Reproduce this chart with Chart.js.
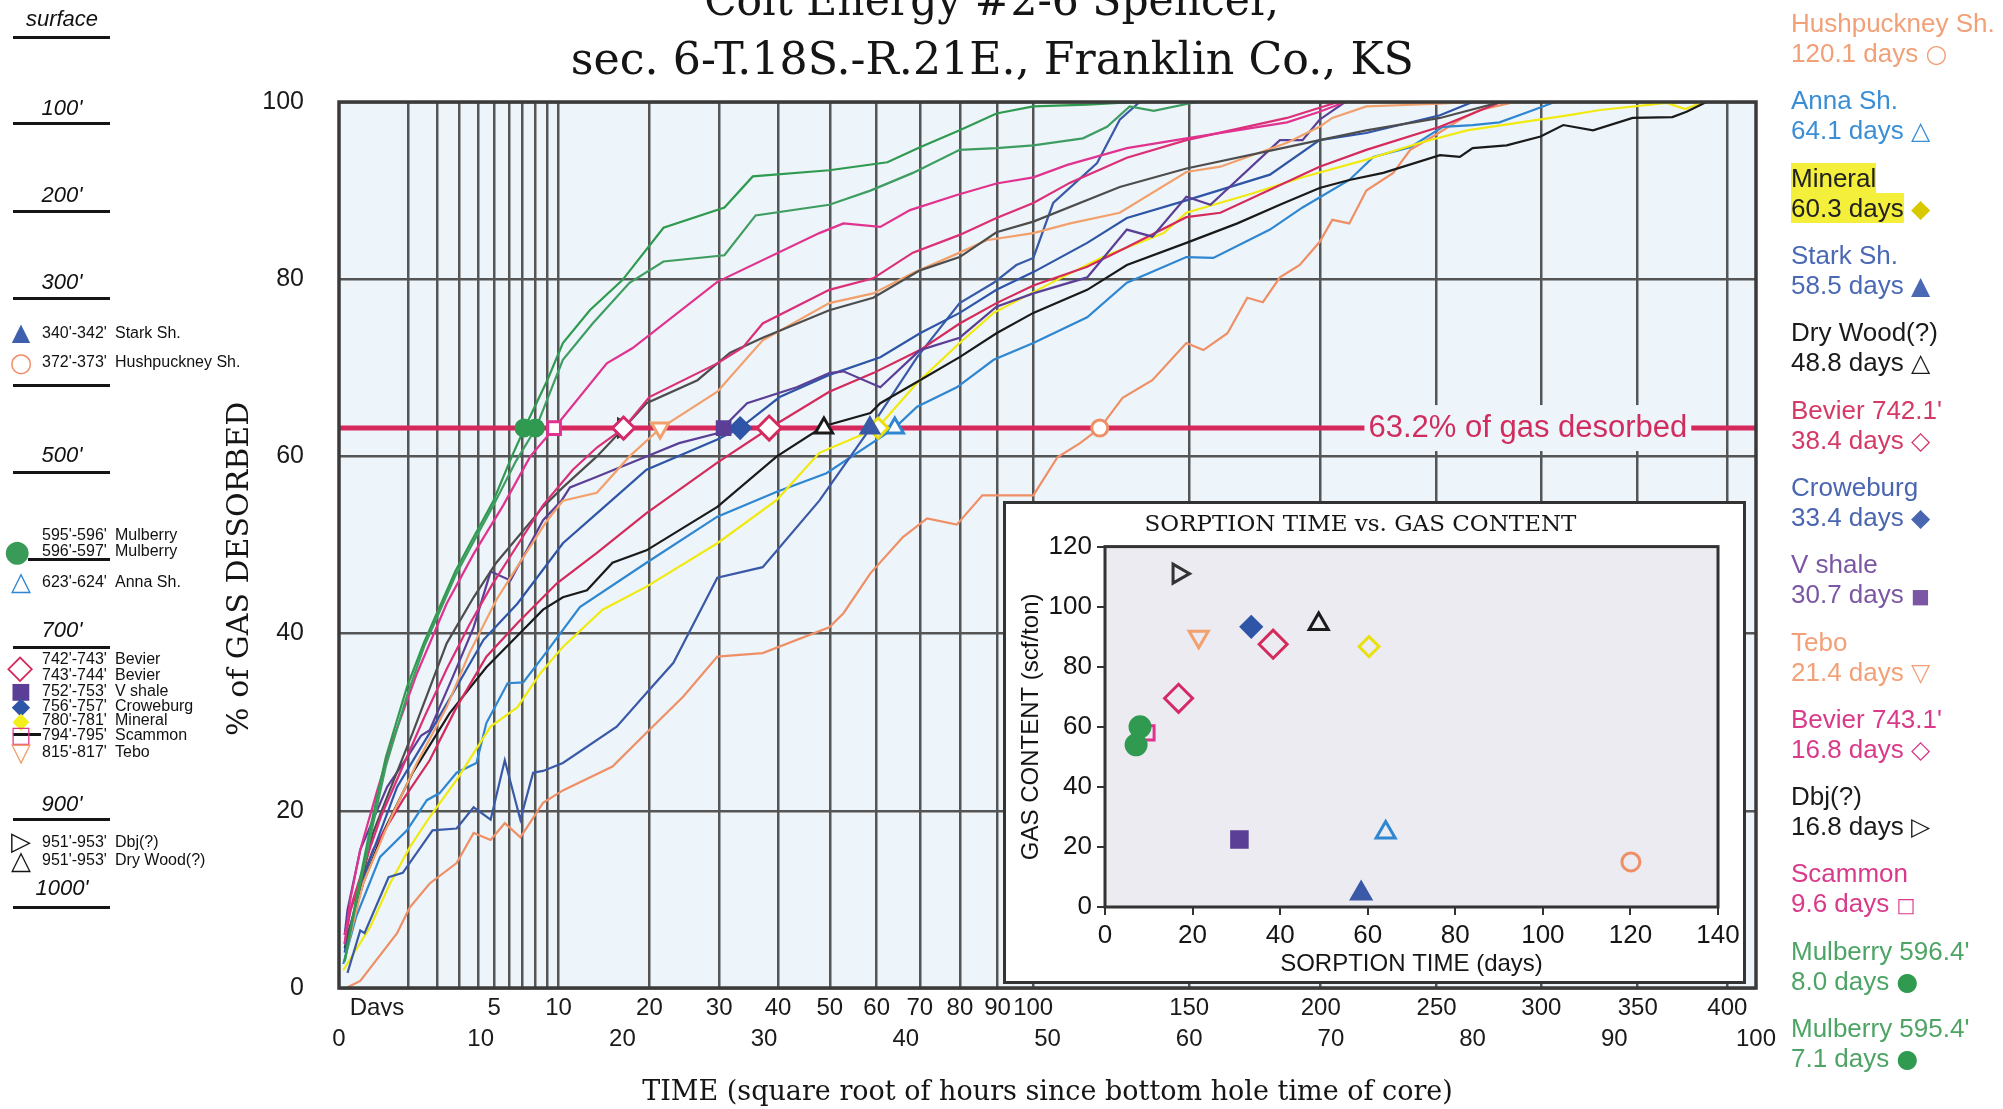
<!DOCTYPE html>
<html>
<head>
<meta charset="utf-8">
<script src="https://cdn.jsdelivr.net/npm/chart.js@4.4.1/dist/chart.umd.min.js"></script>
<style>
  body { margin: 0; background: #fff; }
  #page { position: relative; width: 2003px; height: 1109px; overflow: hidden; font-family: 'Liberation Sans', Arial, sans-serif; color: #111; }
  #main { position: absolute; left: 0; top: 0; }
  #inset { position: absolute; left: 1003px; top: 501px; background: #fff; }
  #insetFrame { position: absolute; left: 1003px; top: 501px; width: 743px; height: 483px; border: 3px solid #333; box-sizing: border-box; pointer-events: none; }
  .ttl { position: absolute; left: 0; width: 1984px; text-align: center; font-family: 'DejaVu Serif', serif; font-size: 45px; line-height: 50px; color: #151515; white-space: nowrap; }
  .ttl span { display: inline-block; transform-origin: 50% 50%; }
  .depth { position: absolute; left: 13px; width: 98px; text-align: center; font: italic 22px 'Liberation Sans', Arial, sans-serif; line-height: 24px; }
  .rule { position: absolute; left: 13px; width: 97px; height: 3px; background: #151515; }
  .row { position: absolute; font-size: 16px; line-height: 18px; white-space: nowrap; }
  .row .d { position: absolute; left: 42px; }
  .row .n { position: absolute; left: 115px; }
  .sym { position: absolute; font-family: 'DejaVu Sans', sans-serif; font-weight: bold; line-height: 24px; width: 28px; text-align: center; }
  .leg { position: absolute; left: 1791px; font-size: 26px; line-height: 30px; white-space: nowrap; }
  .leg b { font-family: 'DejaVu Sans', sans-serif; font-size: 25px; }
</style>
</head>
<body>
<div id="page">
  <canvas id="main" width="2003" height="1109"></canvas>
  <canvas id="inset" width="743" height="483"></canvas>
  <div id="insetFrame"></div>

  <div class="ttl" style="top:-25px"><span class="fit" data-w="575">Colt Energy #2-6 Spencer,</span></div>
  <div class="ttl" style="top:34px"><span class="fit" data-w="843">sec. 6-T.18S.-R.21E., Franklin Co., KS</span></div>

  <!-- depth column -->
  <div class="depth" style="top:7px">surface</div>
  <div class="depth" style="top:96px">100'</div>
  <div class="depth" style="top:183px">200'</div>
  <div class="depth" style="top:270px">300'</div>
  <div class="depth" style="top:443px">500'</div>
  <div class="depth" style="top:618px">700'</div>
  <div class="depth" style="top:792px">900'</div>
  <div class="depth" style="top:876px">1000'</div>
  <div class="rule" style="top:36px"></div>
  <div class="rule" style="top:122px"></div>
  <div class="rule" style="top:210px"></div>
  <div class="rule" style="top:297px"></div>
  <div class="rule" style="top:384px"></div>
  <div class="rule" style="top:471px"></div>
  <div class="rule" style="top:558px; left:28px; width:82px"></div>
  <div class="rule" style="top:646px"></div>
  <div class="rule" style="top:733px; width:28px"></div>
  <div class="rule" style="top:818px"></div>
  <div class="rule" style="top:906px"></div>

  <div class="row" style="top:324px"><span class="d">340'-342'</span><span class="n">Stark Sh.</span></div>
  <div class="row" style="top:353px"><span class="d">372'-373'</span><span class="n">Hushpuckney Sh.</span></div>
  <div class="row" style="top:526px"><span class="d">595'-596'</span><span class="n">Mulberry</span></div>
  <div class="row" style="top:542px"><span class="d">596'-597'</span><span class="n">Mulberry</span></div>
  <div class="row" style="top:573px"><span class="d">623'-624'</span><span class="n">Anna Sh.</span></div>
  <div class="row" style="top:650px"><span class="d">742'-743'</span><span class="n">Bevier</span></div>
  <div class="row" style="top:666px"><span class="d">743'-744'</span><span class="n">Bevier</span></div>
  <div class="row" style="top:682px"><span class="d">752'-753'</span><span class="n">V shale</span></div>
  <div class="row" style="top:697px"><span class="d">756'-757'</span><span class="n">Croweburg</span></div>
  <div class="row" style="top:711px"><span class="d">780'-781'</span><span class="n">Mineral</span></div>
  <div class="row" style="top:726px"><span class="d">794'-795'</span><span class="n">Scammon</span></div>
  <div class="row" style="top:743px"><span class="d">815'-817'</span><span class="n">Tebo</span></div>
  <div class="row" style="top:833px"><span class="d">951'-953'</span><span class="n">Dbj(?)</span></div>
  <div class="row" style="top:851px"><span class="d">951'-953'</span><span class="n">Dry Wood(?)</span></div>

  <div class="sym" style="left:7px; top:320px; font-size:24px; color:#3d5fae">▲</div>
  <div class="sym" style="left:7px; top:350px; font-size:26px; color:#f0906a">○</div>
  <div class="sym" style="left:3px; top:539px; font-size:30px; color:#3a9a58">●</div>
  <div class="sym" style="left:7px; top:569px; font-size:26px; color:#2f86d1">△</div>
  <div class="sym" style="left:6px; top:654px; font-size:34px; color:#d42a5c">◇</div>
  <div class="sym" style="left:7px; top:679px; font-size:22px; color:#5b3f96">■</div>
  <div class="sym" style="left:7px; top:694px; font-size:24px; color:#2e55a6">◆</div>
  <div class="sym" style="left:7px; top:709px; font-size:22px; color:#f3ef1a">◆</div>
  <div class="sym" style="left:7px; top:723px; font-size:22px; color:#e0338f">□</div>
  <div class="sym" style="left:7px; top:740px; font-size:26px; color:#f2a06c">▽</div>
  <div class="sym" style="left:7px; top:829px; font-size:26px; color:#151515">▷</div>
  <div class="sym" style="left:7px; top:848px; font-size:26px; color:#151515">△</div>

  <!-- right legend -->
  <div class="leg" style="top:8px; color:#f2a078">Hushpuckney Sh.<br>120.1 days <b>○</b></div>
  <div class="leg" style="top:85px; color:#3a8ed6">Anna Sh.<br>64.1 days <b>△</b></div>
  <div class="leg" style="top:163px; color:#222"><span style="background:#f3ef3a">Mineral</span><br><span style="background:#f3ef3a">60.3 days</span> <b style="color:#d8c800">◆</b></div>
  <div class="leg" style="top:240px; color:#4a68b4">Stark Sh.<br>58.5 days <b>▲</b></div>
  <div class="leg" style="top:317px; color:#1a1a1a">Dry Wood(?)<br>48.8 days <b>△</b></div>
  <div class="leg" style="top:395px; color:#d43a66">Bevier 742.1'<br>38.4 days <b>◇</b></div>
  <div class="leg" style="top:472px; color:#4a66b0">Croweburg<br>33.4 days <b>◆</b></div>
  <div class="leg" style="top:549px; color:#7a56a4">V shale<br>30.7 days <b style="font-size:20px">■</b></div>
  <div class="leg" style="top:627px; color:#f2a078">Tebo<br>21.4 days <b>▽</b></div>
  <div class="leg" style="top:704px; color:#d93a8a">Bevier 743.1'<br>16.8 days <b>◇</b></div>
  <div class="leg" style="top:781px; color:#1a1a1a">Dbj(?)<br>16.8 days <b>▷</b></div>
  <div class="leg" style="top:858px; color:#d93a8a">Scammon<br>9.6 days <b style="font-size:20px">□</b></div>
  <div class="leg" style="top:936px; color:#4da465">Mulberry 596.4'<br>8.0 days <b style="color:#2f9a50">●</b></div>
  <div class="leg" style="top:1013px; color:#4da465">Mulberry 595.4'<br>7.1 days <b style="color:#2f9a50">●</b></div>
</div>

<script>
// desorption curves, [square root of hours, % of gas desorbed]
const mulberry595 = [[0.4,3],[1.2,10],[2.2,18],[3.3,26],[4.8,34],[6,39],[7.1,43],[8.2,47],[9.2,50],[10.9,55],[12.2,60],[13.1,63.2],[14.7,68.6],[15.8,72.8],[17.7,76.5],[20,79.9],[22.9,85.8],[27.2,88.1],[29.2,91.6],[34.6,92.3],[38.7,93.2],[41,94.9],[43.8,96.8],[46.4,98.7],[49,99.5],[52.8,99.7],[56.3,100]];
const mulberry596 = [[0.4,3],[1.2,9.5],[2.2,17],[3.3,25],[4.8,33],[6,38.5],[7.1,42.5],[8.2,46.5],[9.2,49.5],[10.9,54.5],[12.5,59.5],[13.9,63.2],[15.8,70.9],[17.9,75],[20.5,79.6],[22.9,82],[27.2,82.7],[29.4,87.2],[34.6,88.4],[37.5,90],[40.5,92],[43.8,94.6],[46.4,94.8],[49,95.1],[52.5,95.9],[54.2,97.2],[55.8,99.5],[57.5,99],[60.5,100]];
const scammon = [[0.4,5],[0.8,10],[1.5,15.6],[2.7,22.3],[3.8,28],[5.5,35.5],[7.6,43.4],[9.5,49],[11.6,54.5],[13.5,60],[15.2,63.2],[18.9,70.5],[20.7,72.2],[26.7,79.7],[33.9,85.2],[35.6,86.3],[38.2,85.9],[40.3,87.8],[43.6,89.5],[46.4,90.8],[49,91.5],[51.4,92.9],[55.6,94.8],[59.8,95.9],[66.9,97.7],[69.2,98.9],[71,100]];
const bevier743 = [[0.4,6],[1,10],[1.8,14],[3,19.5],[4.5,25],[6,30.5],[7.6,36],[9.2,41],[10.8,45.5],[12.6,50],[14.4,54.5],[16.5,58.5],[18.2,61],[20.1,63.2],[21.9,66.7],[26.7,70.5],[28.5,72.3],[29.9,75],[34.6,78.8],[37.7,80.1],[40.5,83],[43.8,85],[46.4,86.9],[49,88.6],[51.6,90.9],[55.6,93.7],[59.8,95.7],[66.9,98.2],[70.5,100]];
const dbj = [[0.4,5],[0.8,6.9],[2.4,17.5],[3.5,22],[5.2,28.8],[7.6,38.9],[9.5,44.1],[11.1,48],[14.4,54.3],[15.8,56.5],[18.2,60],[20.1,63.2],[21.7,66],[25.3,68.6],[27.6,71.7],[29.9,73.4],[34.6,76.5],[37.7,77.9],[41,81],[43.8,82.5],[46.4,85.3],[49,86.5],[55.1,90.4],[59.8,92.5],[66.9,94.9],[69.2,95.7],[72.5,96.8],[77.7,98.2],[82,100]];
const tebo = [[0.5,4],[1.7,11.8],[3.6,19],[5.5,25.4],[7.6,31.7],[9.2,37.8],[11.1,43.8],[13,48.6],[14.7,52.8],[15.8,55],[18.2,55.9],[20.5,60],[22.7,63.2],[26.7,67.3],[29.9,73.1],[34.6,77.3],[37.7,78.4],[40.5,80.7],[43.8,83],[45.7,84.4],[49,85.2],[51.6,86.3],[55.1,87.5],[59.8,92.1],[62.2,92.7],[66.9,95.4],[69.2,97.2],[70.1,98.2],[72.5,99.5],[77.7,99.8],[80,100]];
const vShale = [[0.4,6],[0.6,8.8],[1.5,15.6],[3.4,22.7],[4.8,26],[5.8,28.5],[6.4,29.1],[8,35],[9.5,40.7],[10.7,47],[12.1,46],[14.4,52.8],[15.7,55],[16.3,56.5],[18.2,57.7],[21.7,60],[24,61.5],[26.7,62.6],[28.8,66],[32.3,67.8],[34.6,69.4],[35.6,69.6],[38.2,67.8],[41,72],[43.8,73.4],[46.4,76.9],[49,78.4],[52.8,80.2],[55.6,85.6],[57.4,84.8],[59.8,89.3],[61.5,88.4],[66.4,95.7],[68,95.7],[69.2,98],[71,100]];
const croweburg = [[0.4,4],[0.6,6],[2,13.7],[4.1,22.7],[6.4,28.8],[8.3,34],[10.2,39.3],[12.6,43.4],[15.8,50.2],[18.5,54],[21.7,58.5],[26.7,61.9],[28.3,63.2],[31.1,66.7],[34.6,69.2],[38.2,71.2],[41,73.9],[43.8,76.2],[46.4,78.8],[49,80.8],[52.8,84.1],[55.6,86.9],[59.8,88.9],[65.7,91.8],[69.2,95.7],[72.5,96.5],[77.7,98.5],[80,100]];
const bevier742 = [[0.4,5],[0.8,8.8],[2.4,15.6],[4.5,21.2],[6.4,25.7],[8.3,31.7],[10.4,37.4],[12.6,41.2],[15.4,45.7],[18.2,49.1],[21.7,53.6],[26.7,59.3],[30.4,63.2],[34.6,67.3],[37.7,69.4],[41,72],[43.8,75],[46.4,77.3],[49,79.3],[52.8,81.4],[55.6,83.6],[59.8,87],[62.2,87.5],[69.2,92.7],[72.5,94.6],[77.7,97.2],[82,100]];
const dryWood = [[0.4,4.5],[1.7,11.8],[3.1,17.5],[5.2,24.3],[7.8,31],[10.4,36.2],[12.8,40.1],[14.4,42.7],[15.8,44.1],[17.5,44.9],[19.3,48],[21.7,49.4],[26.7,54.3],[30.9,60],[34.2,63.4],[37.5,64.9],[38.2,66],[41,68.6],[43.8,71.2],[46.4,73.9],[49,76.2],[52.8,78.8],[55.6,81.6],[59.8,84.1],[63.4,86.3],[66.4,88.4],[69.2,90.3],[71.3,91.2],[73.7,92],[77.7,94],[79.1,93.8],[80,94.8],[82.4,95.1],[84.8,96.1],[86.4,97.4],[88.5,96.8],[91.3,98.2],[94.1,98.3],[95.1,98.9],[96.5,100]];
const stark = [[0.6,1.7],[1.5,6.5],[1.8,6.2],[3.5,12.5],[4.5,13],[6.6,17.8],[8.3,18],[9.5,20.4],[10.7,19],[11.7,25.7],[12.8,19],[13.7,24.3],[14.4,24.5],[15.8,25.4],[19.6,29.5],[21.7,33.3],[23.6,36.7],[26.7,46.3],[29.9,47.5],[33.9,55],[37.5,63.2],[40.8,71.2],[43.8,77.3],[46.2,79.6],[47.8,81.6],[49,82.4],[50.4,88.6],[53.5,93.1],[55.1,98],[56.5,100]];
const mineral = [[0.3,2],[2.2,6.9],[3.6,11.8],[5,15.9],[6.4,19.3],[8.3,23.5],[9.5,26.5],[10.7,29.5],[12.6,31.7],[14.2,35.5],[15.8,38.5],[18.6,42.7],[21.7,45.3],[26.7,50.2],[30.9,55.1],[33.9,60.4],[38,63.2],[40.8,68.3],[43.8,72.8],[46.2,76.2],[50.4,79.7],[53.9,82.5],[58.2,85.2],[59.8,87.5],[64.5,89.7],[68,91.5],[72.5,93.5],[76.3,95.4],[79.6,96.8],[86.7,98.5],[89,99.1],[93.7,99.9],[95,99.2],[96.3,100]];
const anna = [[0.3,2.7],[1.2,8],[2.9,14.8],[4.8,17.8],[6.2,21.2],[7.1,22],[8.3,24.3],[9.7,25.4],[10.4,29.9],[11.9,34.4],[13,34.5],[14.4,37.4],[17,43],[21.7,48],[26.7,53.2],[30.9,56],[34.4,58.1],[39.2,63.2],[40.8,65.6],[43.6,67.8],[46.2,70.9],[49,72.8],[52.8,75.7],[55.6,79.6],[59.8,82.5],[61.7,82.4],[65.7,85.6],[68,88.1],[71.3,91.2],[73,93.8],[75.6,94.9],[77.9,97.2],[80,97.4],[81.9,97.7],[84.3,99.1],[85.8,100]];
const hushpuckney = [[0.5,0],[1.5,0.8],[4.1,6.2],[5,9.1],[6.4,11.8],[8.3,14.1],[9.5,17.5],[10.7,16.7],[11.7,18.6],[12.8,17],[14.4,20.9],[15.8,22.3],[19.3,25],[21.7,28.8],[24.3,32.9],[26.7,37.4],[29.9,37.8],[34.6,40.7],[35.6,42.3],[37.5,46.8],[39.8,50.9],[41.5,53],[43.6,52.3],[45.4,55.6],[49,55.6],[50.7,59.9],[52.3,61.5],[53.7,63.2],[55.3,66.6],[57.4,68.6],[59.8,72.8],[61,72],[62.7,73.9],[64.1,77.9],[65.2,77.4],[66.4,80.2],[67.8,81.6],[69.2,84.2],[70.1,86.7],[71.3,86.3],[72.5,90],[74.4,92],[75.6,94.6],[77.2,96.1],[79.1,98],[80.5,99.1],[83,100]];

const seriesNames = ['Mulberry 595.4', 'Mulberry 596.4', 'Scammon', 'Bevier 743.1', 'Dbj(?)', 'Tebo', 'V shale', 'Croweburg', 'Bevier 742.1', 'Dry Wood(?)', 'Stark Sh.', 'Mineral', 'Anna Sh.', 'Hushpuckney Sh.'];
const sorptionDays = [7.1, 8.0, 9.6, 16.8, 16.8, 21.4, 30.7, 33.4, 38.4, 48.8, 58.5, 60.3, 64.1, 120.1];
const gasContent = [54, 60, 58, 69.5, 111, 90, 22.5, 93.3, 87.5, 94.2, 4.5, 86.7, 24.8, 15];
const desorbedLevel = 63.2;

// bottom axis: day marks on the square-root-of-hours scale
const dayTicks = [1, 2, 3, 4, 5, 6, 7, 8, 9, 10, 20, 30, 40, 50, 60, 70, 80, 90, 100, 150, 200, 250, 300, 350, 400];
const dayTickLabels = ['', '', '', '', '5', '', '', '', '', '10', '20', '30', '40', '50', '60', '70', '80', '90', '100', '150', '200', '250', '300', '350', '400'];

const curves = [mulberry595, mulberry596, scammon, bevier743, dbj, tebo, vShale, croweburg, bevier742, dryWood, stark, mineral, anna, hushpuckney];

// styling
const lineColors = ['#2f9a50', '#3f9d62', '#e0338f', '#db2f78', '#4d4d4d', '#f2a06c', '#5b3f96', '#2e55a6', '#d42a5c', '#1a1a1a', '#3a5aa8', '#f0ea10', '#2f86d1', '#ef8f66'];
const markColors = ['#2f9a50', '#2f9a50', '#e0338f', '#d42a6a', '#333333', '#f2a06c', '#5b3f96', '#2e55a6', '#d42a5c', '#1a1a1a', '#3a5aa8', '#e8e010', '#2f86d1', '#ef8f66'];
const markStyle = ['circle', 'circle', 'rect', 'rectRot', 'triangle', 'triangle', 'rect', 'rectRot', 'rectRot', 'triangle', 'triangle', 'rectRot', 'triangle', 'circle'];
const markRotation = [0, 0, 0, 0, 90, 180, 0, 0, 0, 0, 0, 0, 0, 0];
const markFilled = [true, true, false, false, false, false, true, true, false, false, true, false, false, false];
const mainRadius = [8, 8, 9, 11, 10, 10, 9, 10, 12, 10, 10, 10, 10, 8];
const insetRadius = [10, 10, 10, 14, 11, 11, 11, 10, 14, 11, 11, 10, 11, 9];

const sans = "'Liberation Sans', Arial, sans-serif";
const narrow = "'Liberation Sans Narrow', 'Liberation Sans', Arial, sans-serif";
const serif = "'DejaVu Serif', 'Liberation Serif', serif";
const gridColor = '#555555';

const plotFrame = {
  id: 'plotFrame',
  beforeDraw(chart, args, opts) {
    const { ctx, chartArea: a } = chart;
    ctx.save();
    ctx.fillStyle = opts.fill;
    ctx.fillRect(a.left, a.top, a.width, a.height);
    ctx.restore();
  },
  afterDraw(chart, args, opts) {
    const { ctx, chartArea: a } = chart;
    ctx.save();
    ctx.strokeStyle = opts.stroke;
    ctx.lineWidth = opts.width;
    ctx.strokeRect(a.left, a.top, a.width, a.height);
    ctx.restore();
  }
};

const levelLabel = {
  id: 'levelLabel',
  afterDatasetsDraw(chart, args, opts) {
    const { ctx, scales } = chart;
    const x = scales.x.getPixelForValue(opts.at);
    const y = scales.y.getPixelForValue(opts.level);
    ctx.save();
    ctx.font = opts.font;
    const w = ctx.measureText(opts.text).width;
    ctx.fillStyle = opts.bg;
    ctx.fillRect(x - w / 2 - 4, y - 23, w + 8, 46);
    ctx.fillStyle = opts.color;
    ctx.textAlign = 'center';
    ctx.textBaseline = 'middle';
    ctx.fillText(opts.text, x, y);
    ctx.restore();
  }
};

const datasets = [];
curves.forEach((pts, i) => {
  datasets.push({
    label: seriesNames[i],
    data: pts.map(p => ({ x: p[0], y: p[1] })),
    showLine: true,
    borderColor: lineColors[i],
    borderWidth: 2.2,
    pointRadius: 0,
    tension: 0,
    order: 3
  });
});
datasets.push({
  label: '63.2% of gas desorbed',
  data: [{ x: 0, y: desorbedLevel }, { x: 100, y: desorbedLevel }],
  showLine: true,
  borderColor: '#d6285c',
  borderWidth: 5,
  pointRadius: 0,
  order: 2
});
sorptionDays.forEach((d, i) => {
  datasets.push({
    label: seriesNames[i] + ' sorption time',
    data: [{ x: Math.sqrt(24 * d), y: desorbedLevel }],
    pointStyle: markStyle[i],
    rotation: markRotation[i],
    pointRadius: mainRadius[i],
    borderColor: markColors[i],
    backgroundColor: markFilled[i] ? markColors[i] : '#ffffff',
    borderWidth: 3,
    order: 1
  });
});

new Chart(document.getElementById('main'), {
  type: 'scatter',
  data: { datasets },
  plugins: [plotFrame, levelLabel],
  options: {
    responsive: false,
    animation: false,
    events: [],
    layout: { padding: { left: 210, top: 102, right: 247, bottom: 0 } },
    plugins: {
      legend: { display: false },
      tooltip: { enabled: false },
      plotFrame: { fill: '#edf5fa', stroke: '#3a3a3a', width: 3.5 },
      levelLabel: { text: '63.2% of gas desorbed', at: 83.9, level: desorbedLevel, font: '31px ' + sans, color: '#d02d5e', bg: '#edf5fa' }
    },
    scales: {
      x: {
        type: 'linear', position: 'bottom', min: 0, max: 100,
        afterBuildTicks: s => { s.ticks = [{ value: 2.68 }].concat(dayTicks.map(d => ({ value: Math.sqrt(24 * d) }))); },
        afterFit: s => { s.height = 28; },
        grid: { color: c => c.index === 0 ? 'rgba(0,0,0,0)' : gridColor, lineWidth: 2.5, drawTicks: false },
        border: { display: false },
        ticks: {
          autoSkip: false, maxRotation: 0, padding: 6, color: '#1a1a1a',
          font: { family: sans, size: 24 },
          callback: (v, i) => i === 0 ? 'Days' : dayTickLabels[i - 1]
        }
      },
      x2: {
        type: 'linear', position: 'bottom', min: 0, max: 100,
        afterFit: s => { s.height = 93; },
        grid: { display: false },
        border: { display: false },
        ticks: { stepSize: 10, autoSkip: false, maxRotation: 0, padding: 1, color: '#1a1a1a', font: { family: sans, size: 24 } },
        title: { display: true, text: 'TIME (square root of hours since bottom hole time of core)', color: '#151515', font: { family: serif, size: 27 }, padding: { top: 0, bottom: 0 } }
      },
      y: {
        min: 0, max: 100,
        afterFit: s => { s.width = 129; },
        grid: { color: gridColor, lineWidth: 2.5, drawTicks: false },
        border: { display: false },
        ticks: { stepSize: 20, padding: 35, color: '#1a1a1a', font: { family: sans, size: 25 } },
        title: { display: true, text: '% of GAS DESORBED     ', color: '#151515', font: { family: serif, size: 30 }, padding: { top: 12, bottom: 0 } }
      }
    }
  }
});

// inset: sorption time vs gas content
new Chart(document.getElementById('inset'), {
  type: 'scatter',
  data: {
    datasets: sorptionDays.map((d, i) => ({
      label: seriesNames[i],
      data: [{ x: d, y: gasContent[i] }],
      pointStyle: markStyle[i],
      rotation: markRotation[i],
      pointRadius: insetRadius[i],
      borderColor: markColors[i],
      backgroundColor: markFilled[i] ? markColors[i] : 'rgba(0,0,0,0)',
      borderWidth: 3
    }))
  },
  plugins: [plotFrame],
  options: {
    responsive: false,
    animation: false,
    events: [],
    layout: { padding: { left: 0, right: 28, top: 0, bottom: 0 } },
    plugins: {
      legend: { display: false },
      tooltip: { enabled: false },
      title: { display: true, text: 'SORPTION TIME vs. GAS CONTENT', color: '#151515', font: { family: serif, size: 23, weight: 'normal' }, padding: { top: 10, bottom: 8 } },
      plotFrame: { fill: '#ebebf1', stroke: '#333333', width: 3 }
    },
    scales: {
      x: {
        type: 'linear', min: 0, max: 140,
        afterFit: s => { s.height = 77; },
        grid: { drawOnChartArea: false, drawTicks: true, tickLength: 8, color: '#333', lineWidth: 2 },
        border: { display: false },
        ticks: { stepSize: 20, padding: 5, maxRotation: 0, color: '#151515', font: { family: narrow, size: 26 } },
        title: { display: true, text: 'SORPTION TIME (days)', color: '#151515', font: { family: narrow, size: 24 }, padding: { top: 0, bottom: 5 } }
      },
      y: {
        min: 0, max: 120,
        afterFit: s => { s.width = 102; },
        grid: { drawOnChartArea: false, drawTicks: true, tickLength: 8, color: '#333', lineWidth: 2 },
        border: { display: false },
        ticks: { stepSize: 20, padding: 5, color: '#151515', font: { family: narrow, size: 26 } },
        title: { display: true, text: 'GAS CONTENT (scf/ton)', color: '#151515', font: { family: narrow, size: 24 }, padding: { top: 14, bottom: 0 } }
      }
    }
  }
});

// squeeze the serif title lines to the widths they have in the figure
document.querySelectorAll('.fit').forEach(el => {
  const w = el.getBoundingClientRect().width;
  el.style.transform = 'scaleX(' + (Number(el.dataset.w) / w) + ')';
});
</script>
</body>
</html>
